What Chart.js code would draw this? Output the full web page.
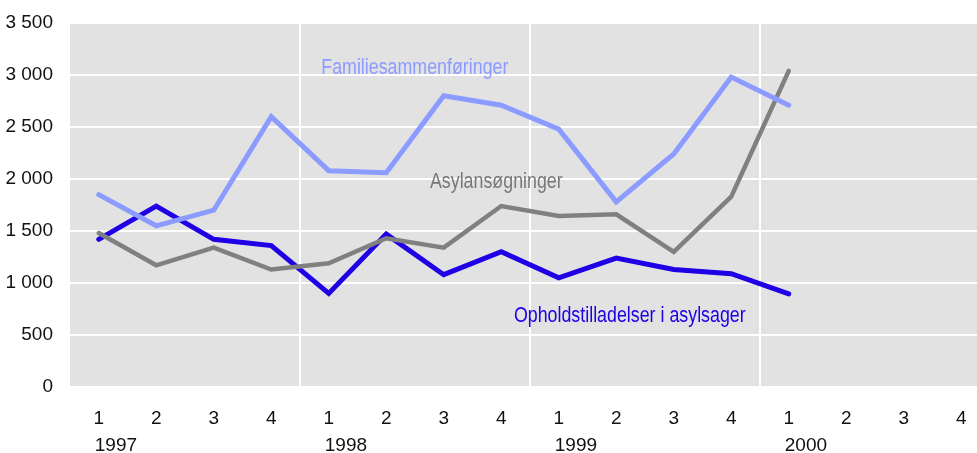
<!DOCTYPE html>
<html>
<head>
<meta charset="utf-8">
<script src="https://cdn.jsdelivr.net/npm/chart.js@4/dist/chart.umd.min.js"></script>
<style>
  html, body { margin: 0; padding: 0; background: #ffffff; overflow: hidden; width: 977px; height: 453px; }
  #wrap { position: absolute; left: 0; top: 0; width: 990px; height: 453px; }
</style>
</head>
<body>
<div id="wrap"><canvas id="c"></canvas></div>
<script>
// ---- data ----
const quarterLabels = ['1','2','3','4','1','2','3','4','1','2','3','4','1','2','3','4'];
const yearLabels    = ['1997','','','','1998','','','','1999','','','','2000','','',''];
const familiesammenforinger = [1850,1550,1700,2600,2080,2060,2800,2710,2480,1780,2240,2980,2710,null,null,null];
const asylansogninger       = [1480,1170,1340,1130,1190,1430,1340,1740,1645,1660,1300,1830,3040,null,null,null];
const opholdstilladelser    = [1420,1740,1420,1360,900,1470,1080,1300,1050,1240,1130,1090,895,null,null,null];
const seriesNames = ['Familiesammenføringer','Asylansøgninger','Opholdstilladelser i asylsager'];
const yTickValues = [0,500,1000,1500,2000,2500,3000,3500];

// ---- style ----
const FONT = "'Liberation Sans',Arial,sans-serif";
const colors = ['#8c9bff', '#808080', '#1f00e6'];
const textColors = ['#8c9bff', '#787878', '#1f00e6'];
// label anchors (category index, value) for the in-chart series names
const labelAnchors = [[3.87, 3070], [5.76, 1970], [7.22, 685]];

const bgPlugin = {
  id: 'bg',
  beforeDraw(chart) {
    const a = chart.chartArea, ctx = chart.ctx;
    ctx.save();
    ctx.fillStyle = '#e2e2e2';
    ctx.fillRect(a.left, a.top, a.right - a.left, a.bottom - a.top);
    ctx.restore();
  }
};
const namesPlugin = {
  id: 'names',
  afterDatasetsDraw(chart) {
    const ctx = chart.ctx, xs = chart.scales.x, ys = chart.scales.y;
    const sx = 0.81;
    seriesNames.forEach((n, i) => {
      const px = xs.getPixelForValue(labelAnchors[i][0]);
      const py = ys.getPixelForValue(labelAnchors[i][1]);
      ctx.save();
      ctx.translate(px, py);
      ctx.scale(sx, 1);
      ctx.font = "22px " + FONT;
      ctx.textAlign = 'left';
      ctx.textBaseline = 'middle';
      ctx.fillStyle = textColors[i];
      ctx.fillText(n, 0, 0);
      ctx.restore();
    });
  }
};

const mk = (label, data, color, w) => ({
  label, data, borderColor: color, backgroundColor: color, borderWidth: w,
  pointRadius: 0, tension: 0, borderCapStyle: 'round', borderJoinStyle: 'miter', fill: false
});

new Chart(document.getElementById('c'), {
  type: 'line',
  data: {
    labels: quarterLabels,
    datasets: [
      mk(seriesNames[0], familiesammenforinger, colors[0], 5),
      mk(seriesNames[1], asylansogninger, colors[1], 4.5),
      mk(seriesNames[2], opholdstilladelser, colors[2], 5)
    ]
  },
  options: {
    responsive: true,
    maintainAspectRatio: false,
    animation: false,
    devicePixelRatio: 1,
    layout: { padding: { top: 23, right: 0, left: 0, bottom: 0 } },
    plugins: { legend: { display: false }, tooltip: { enabled: false } },
    scales: {
      x: {
        type: 'category',
        offset: true,
        border: { display: false },
        grid: {
          offset: true, drawTicks: false, lineWidth: 2,
          color: c => (c.index > 0 && c.index % 4 === 0) ? '#ffffff' : 'rgba(0,0,0,0)'
        },
        ticks: { autoSkip: false, maxRotation: 0, padding: 20, color: '#111', font: { family: FONT, size: 19 } },
        afterFit: s => { s.height = 43; s.paddingLeft = 0; s.paddingRight = 0; }
      },
      x2: {
        type: 'category',
        position: 'bottom',
        labels: yearLabels,
        offset: true,
        border: { display: false },
        grid: { display: false, drawTicks: false },
        ticks: { autoSkip: false, maxRotation: 0, align: 'start', labelOffset: -4, padding: 4, color: '#111', font: { family: FONT, size: 19 } },
        afterFit: s => { s.height = 23; s.paddingLeft = 0; s.paddingRight = 0; }
      },
      y: {
        min: 0, max: 3500,
        border: { display: false },
        grid: { color: '#ffffff', lineWidth: 2, drawTicks: false },
        afterBuildTicks: s => { s.ticks = yTickValues.map(v => ({ value: v })); },
        ticks: {
          padding: 17, color: '#111', font: { family: FONT, size: 19 },
          callback: v => String(v).replace(/\B(?=(\d{3})+(?!\d))/g, ' ')
        },
        afterFit: s => { s.width = 70; s.paddingTop = 0; s.paddingBottom = 0; }
      }
    }
  },
  plugins: [bgPlugin, namesPlugin]
});
</script>
</body>
</html>
